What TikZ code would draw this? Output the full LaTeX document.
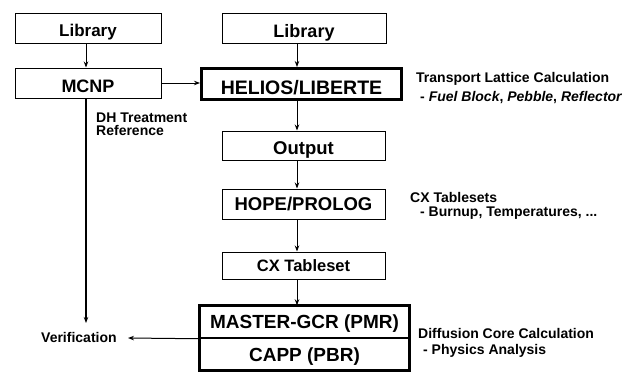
\documentclass[tikz,border=0pt]{standalone}
\usepackage{fontspec}
\setmainfont{Liberation Sans}
\usetikzlibrary{arrows.meta,calc}
\begin{document}
\begin{tikzpicture}[x=1pt,y=-1pt,
  box/.style={draw, line width=1pt, inner sep=0pt, text depth=0pt, anchor=center},
  f/.style={font=\bfseries\fontsize{#1}{#1}\selectfont},
  side/.style={inner sep=0pt, anchor=base west, font=\bfseries\fontsize{14}{14}\selectfont},
  arr/.style={line width=1pt, -{Stealth[length=6pt,width=4.5pt]}},
]
\useasboundingbox (0,0) rectangle (635,372);
% boxes
\node[box, f=17, minimum width=146pt, minimum height=30pt, text height=16pt] (lib1) at (88,28) {Library};
\node[box, f=18, minimum width=146pt, minimum height=30pt, text height=18pt] (mcnp) at (88,83) {MCNP};
\node[box, f=18, minimum width=164pt, minimum height=30pt, text height=18pt] (lib2) at (304,28) {Library};
\node[box, line width=3pt, f=19.5, minimum width=200pt, minimum height=31pt, text height=20pt] (helios) at (301.5,84) {HELIOS/LIBERTE};
\node[box, f=18.5, minimum width=163pt, minimum height=29pt, text height=17pt] (output) at (303.5,145.5) {Output};
\node[box, f=18.5, minimum width=163pt, minimum height=30pt, text height=13.2pt] (hope) at (303.5,204) {HOPE/PROLOG};
\node[box, f=16.5, minimum width=163pt, minimum height=27pt, text height=12.5pt] (cxt) at (303.5,265.5) {CX Tableset};
\node[box, line width=1.5pt, f=19, minimum width=209pt, minimum height=32pt, text height=13pt] (master) at (304.5,322) {MASTER-GCR (PMR)};
\node[box, line width=1.5pt, f=19, minimum width=209pt, minimum height=32pt, text height=15pt] (capp) at (304.5,354) {CAPP (PBR)};
\draw[line width=2.5pt] (master.north west) rectangle (capp.south east);
% side texts
\node[side] (t1) at (416,82) {Transport Lattice Calculation};
\node[side] (t2) at (420,101) {- \textit{Fuel Block}, \textit{Pebble}, \textit{Reflector}};
\node[side] (t3) at (410,202) {CX Tablesets};
\node[side] (t4) at (420,216) {- Burnup, Temperatures, ...};
\node[side] (t5) at (418,338) {Diffusion Core Calculation};
\node[side] (t6) at (423,354) {- Physics Analysis};
\node[side] (dh1) at (96,122) {DH Treatment};
\node[side] (dh2) at (96,135) {Reference};
\node[side] (verif) at (41,342) {Verification};
% helper coordinates
\coordinate (ax) at (297,0);
\coordinate (lx) at (86,0);
\coordinate (vend) at (86,323);
\coordinate (vtip) at (128,338);
% connectors
\draw[arr] (lib1.south -| lx) -- (mcnp.north -| lx);
\draw[arr] (mcnp.east) -- (mcnp.east -| helios.west);
\draw[arr] (lib2.south -| ax) -- (helios.north -| ax);
\draw[arr] (helios.south -| ax) -- (output.north -| ax);
\draw[arr] (output.south -| ax) -- (hope.north -| ax);
\draw[arr] (hope.south -| ax) -- (cxt.north -| ax);
\draw[arr] (cxt.south -| ax) -- (master.north -| ax);
\draw[arr, line width=1.3pt] (mcnp.south -| lx) -- (vend);
\draw[arr] (master.south west) -- (vtip);
\end{tikzpicture}
\end{document}
